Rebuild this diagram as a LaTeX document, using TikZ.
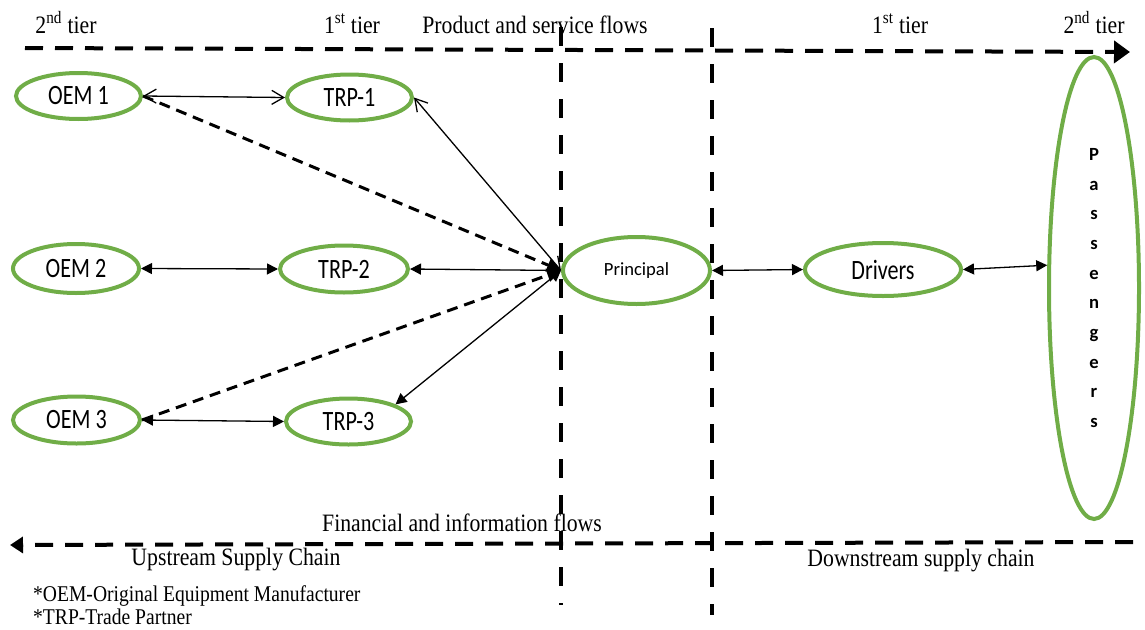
\documentclass[tikz,border=0pt]{standalone}
\usepackage{fontspec}
\setmainfont{Liberation Serif}[FakeStretch=0.87]
\newfontfamily\ovalfont{Carlito}[FakeStretch=0.79]
\newfontfamily\plainfont{Carlito}
\usetikzlibrary{arrows.meta,shapes.geometric}
\definecolor{ovalgreen}{RGB}{112,173,71}
\tikzset{
  oval/.style={ellipse, draw=ovalgreen, line width=4pt, inner sep=0pt,
    font=\ovalfont\fontsize{28}{30}\selectfont},
  heading/.style={inner sep=0pt, anchor=base, font=\fontsize{25}{27}\selectfont},
  note/.style={inner sep=0pt, anchor=base west, font=\fontsize{22.5}{24}\selectfont},
  flowline/.style={line width=4pt, dash pattern=on 18pt off 12pt},
  divider/.style={line width=4pt, dash pattern=on 19pt off 17pt},
  link/.style={line width=1.3pt},
  fboth/.style={link, >={Triangle[length=11pt,width=11pt]}, <->},
  obarb/.style={link, >={Straight Barb[length=12pt,width=14pt]}, <->},
  dflow/.style={line width=3pt, dash pattern=on 11pt off 7pt,
    >={Triangle[length=14pt,width=13pt]}, ->},
}
\begin{document}
\begin{tikzpicture}[x=1pt,y=-1pt]
\useasboundingbox (0,0) rectangle (1145,629);

% flow direction lines
\draw[flowline, -{Triangle[length=16pt,width=22pt]}] (25,48) -- (1130,52);
\draw[flowline, -{Triangle[length=13pt,width=16pt]}] (1133,542) -- (10,545);

% tier dividers around the principal
\draw[divider] (561,27) -- (561,605);
\draw[divider] (712,28) -- (712,615);

% headings
\node[heading] (h1) at (66,33) {2\textsuperscript{nd} tier};
\node[heading] (h2) at (352,33) {1\textsuperscript{st} tier};
\node[heading] (h3) at (535,33) {Product and service flows};
\node[heading] (h4) at (900,33) {1\textsuperscript{st} tier};
\node[heading] (h5) at (1094,33) {2\textsuperscript{nd} tier};
\node[heading] (h6) at (462,531) {Financial and information flows};
\node[heading] (h7) at (236,565) {Upstream Supply Chain};
\node[heading] (h8) at (921,566) {Downstream supply chain};
\node[note] (n1) at (33,601) {*OEM-Original Equipment Manufacturer};
\node[note] (n2) at (33,624) {*TRP-Trade Partner};

% supply chain members
\node[oval, minimum width=125pt, minimum height=46pt] (O1) at (78.5,96) {OEM 1};
\node[oval, minimum width=125pt, minimum height=46pt] (T1) at (349.5,97.5) {TRP-1};
\node[oval, minimum width=126pt, minimum height=49pt] (O2) at (76,268.5) {OEM 2};
\node[oval, minimum width=128pt, minimum height=47pt] (T2) at (344,269) {TRP-2};
\node[oval, minimum width=127pt, minimum height=47pt] (O3) at (76.5,420) {OEM 3};
\node[oval, minimum width=125pt, minimum height=46pt] (T3) at (348.5,421.5) {TRP-3};
\node[oval, minimum width=147pt, minimum height=67pt,
  font=\plainfont\fontsize{18.6}{20}\selectfont] (P) at (636.5,270.5) {Principal};
\node[oval, minimum width=156pt, minimum height=53pt] (D) at (883,269.5) {Drivers};
\node[oval, minimum width=90pt, minimum height=462pt, align=center,
  font=\plainfont\bfseries\fontsize{18.6}{29.7}\selectfont] (Pa) at (1094,288)
  {P\\a\\s\\s\\e\\n\\g\\e\\r\\s};

% links
\draw[obarb] (O1.east) -- (T1.west);
\draw[dflow] (O1.east) -- (P.west);
\draw[obarb] (T1.east) -- (P.west);
\draw[fboth] (O2.east) -- (T2.west);
\draw[fboth] (T2.east) -- (P.west);
\draw[dflow] (O3.east) -- (P.west);
\draw[fboth] (O3.east) -- (T3.west);
\draw[fboth] (T3.20) -- (P.west);
\draw[fboth] (P.east) -- (D.west);
\draw[fboth] (D.east) -- (Pa.154);
\end{tikzpicture}
\end{document}
